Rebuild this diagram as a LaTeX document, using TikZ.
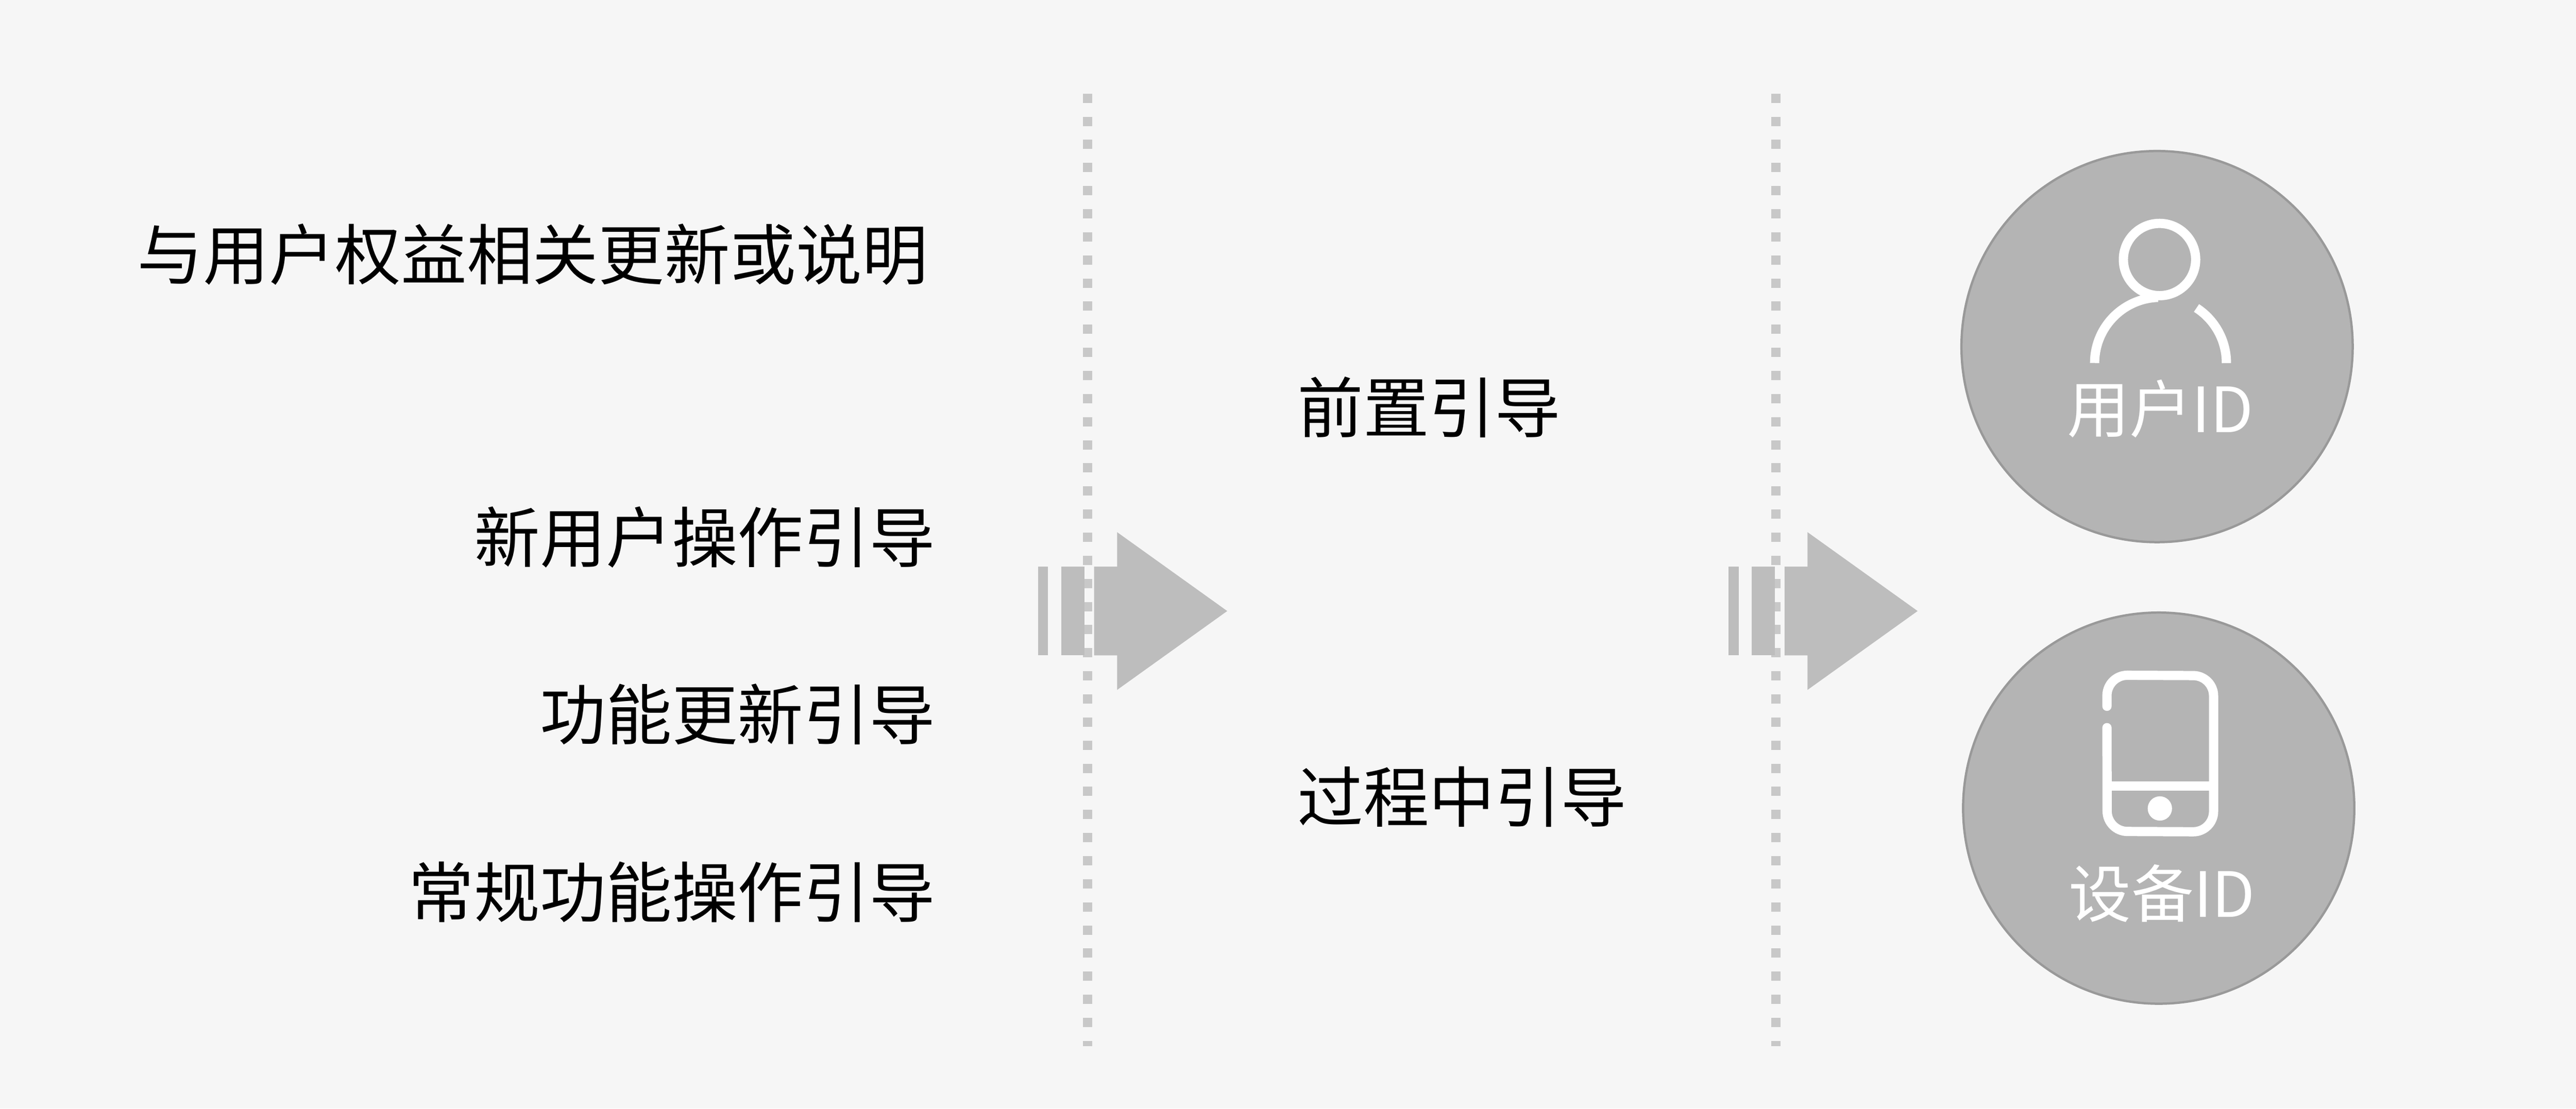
\documentclass[tikz,border=0pt]{standalone}
\usepackage{fontspec}
\setmainfont{Noto Sans CJK SC}
\usetikzlibrary{positioning}
\definecolor{bgcol}{HTML}{F6F6F6}
\definecolor{dotcol}{HTML}{C8C8C8}
\definecolor{arrcol}{HTML}{BDBDBD}
\definecolor{circol}{HTML}{B4B4B4}
\tikzset{
  label text/.style={font=\fontsize{11.4pt}{13pt}\selectfont, inner sep=0pt},
  icon text/.style={font=\fontsize{10.8pt}{12pt}\selectfont, text=white, inner sep=0pt},
  divider/.style={dotcol, line width=1.6pt, dash pattern=on 1.6pt off 2.4pt},
  id circle/.style={circle, fill=circol, draw=circol!85!black, line width=0.4pt, minimum size=2.38cm, inner sep=0pt},
  icon line/.style={white, line width=1.6pt, line cap=round},
}
\newcommand{\flowarrow}[1]{%
  \begin{scope}[xshift=#1]
    \fill[arrcol] (632,345) rectangle (638,399);
    \fill[arrcol] (646,345) rectangle (660,399);
    \fill[arrcol] (666,345) -- (680,345) -- (680,324) -- (747,372) -- (680,420) -- (680,399) -- (666,399) -- cycle;
  \end{scope}}
\begin{document}
\begin{tikzpicture}[x=0.01cm, y=-0.01cm]
    \fill[bgcol] (0,0) rectangle (1568,675);
    \useasboundingbox (0,0) rectangle (1568,675);
    % left column
    \node[label text, anchor=west] (rights) at (83,155) {与用户权益相关更新或说明};
    \node[label text, anchor=east] (newuser) at (570,327) {新用户操作引导};
    \node[label text, anchor=east] (feature) at (570,435) {功能更新引导};
    \node[label text, anchor=east] (routine) at (570,543) {常规功能操作引导};
    % dividers
    \draw[divider] (662,57) -- (662,637);
    \draw[divider] (1081,57) -- (1081,637);
    \flowarrow{0}
    \flowarrow{4.2cm}
    % middle column
    \node[label text, anchor=west] (pre) at (789,248) {前置引导};
    \node[label text, anchor=west] (during) at (789,485) {过程中引导};
    % right column
    \node[id circle] (usercirc) at (1313,211) {};
    \node[id circle] (devcirc) at (1314,492) {};
    \draw[icon line] (1314.5,158) circle (22);
    \draw[icon line, line cap=butt] (1275,221) arc (180:268:40);
    \draw[icon line, line cap=butt] (1337,187.5) arc (-57:0:40);
    \node[icon text] (userid) at (1315,249) {用户ID};
    \draw[icon line] (1282.5,430) -- (1282.5,423.5) arc (180:270:12.4) -- (1335,411.3) arc (270:360:12.4) -- (1347.4,494) arc (0:90:12.4) -- (1295,506.2) arc (90:180:12.4) -- (1282.5,443);
    \draw[white, line width=1.6pt] (1282.5,478.6) -- (1347.4,478.6);
    \fill[white] (1314.7,492.2) circle (7.4);
    \node[icon text] (devid) at (1316,544) {设备ID};
\end{tikzpicture}
\end{document}
